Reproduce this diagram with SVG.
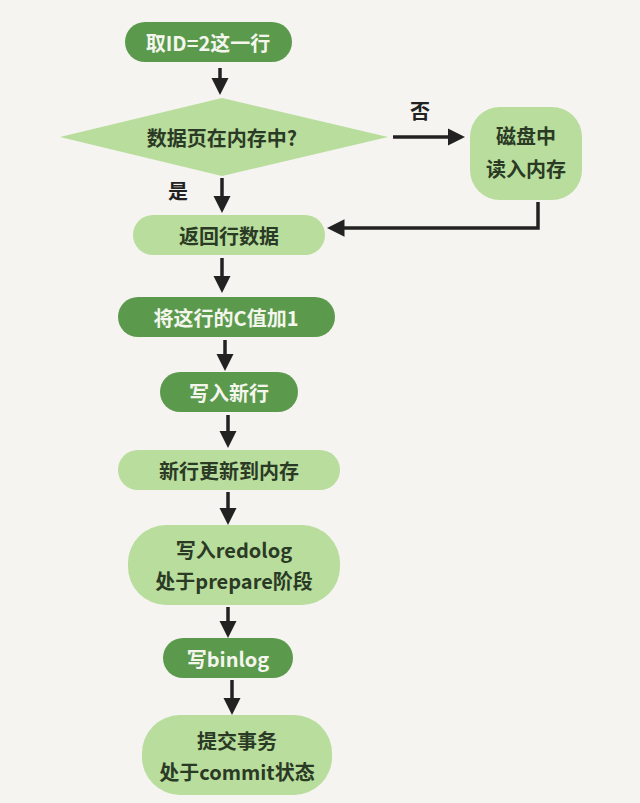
<svg xmlns="http://www.w3.org/2000/svg" width="640" height="803" viewBox="0 0 640 803">
<style>
.dk{fill:#5b9a4c}
.lt{fill:#b8dd9c}
.td{font-family:"Noto Sans CJK SC","Liberation Sans",sans-serif;font-size:20px;fill:#f4f6ee;text-anchor:middle;dominant-baseline:central;font-weight:bold}
.tl{font-family:"Noto Sans CJK SC","Liberation Sans",sans-serif;font-size:20px;fill:#2b3a25;text-anchor:middle;dominant-baseline:central;font-weight:bold}
.c{stroke:#222;stroke-width:3.5;fill:none;marker-end:url(#a)}
</style>
<defs><marker id="a" markerWidth="5" markerHeight="5" refX="3" refY="2.5" orient="auto"><path d="M0,0L5,2.5L0,5z" fill="#222"/></marker></defs>
<rect width="640" height="803" fill="#f5f4f0"/>
<g id="connectors">
<path class="c" d="M220,68V88"/>
<path class="c" d="M393,137H458"/>
<path class="c" d="M222,178V206"/>
<path class="c" d="M538,202V228H334"/>
<path class="c" d="M222,258V286"/>
<path class="c" d="M225,340V364"/>
<path class="c" d="M228,415V441"/>
<path class="c" d="M228,492V518"/>
<path class="c" d="M228,607V631"/>
<path class="c" d="M232,680V708"/>
<text x="420" y="110" class="tl" style="fill:#222">否</text>
<text x="178" y="190" class="tl" style="fill:#222">是</text>
</g>
<g id="n1"><rect class="dk" x="125" y="22" width="167" height="40" rx="20"/><text class="td" x="208" y="42">取ID=2这一行</text></g>
<g id="n2"><polygon class="lt" points="60,137 222,98 388,137 222,176"/><text class="tl" x="222" y="137">数据页在内存中?</text></g>
<g id="n3"><rect class="lt" x="470" y="107" width="112" height="93" rx="30"/><text class="tl" x="526" y="135">磁盘中</text><text class="tl" x="526" y="168">读入内存</text></g>
<g id="n4"><rect class="lt" x="133" y="215" width="192" height="40" rx="20"/><text class="tl" x="229" y="235">返回行数据</text></g>
<g id="n5"><rect class="dk" x="118" y="297" width="217" height="40" rx="20"/><text class="td" x="226" y="317">将这行的C值加1</text></g>
<g id="n6"><rect class="dk" x="160" y="372" width="138" height="40" rx="20"/><text class="td" x="229" y="392">写入新行</text></g>
<g id="n7"><rect class="lt" x="118" y="450" width="222" height="40" rx="20"/><text class="tl" x="229" y="470">新行更新到内存</text></g>
<g id="n8"><rect class="lt" x="128" y="525" width="212" height="80" rx="38"/><text class="tl" x="234" y="549">写入redolog</text><text class="tl" x="234" y="580">处于prepare阶段</text></g>
<g id="n9"><rect class="dk" x="163" y="638" width="130" height="40" rx="20"/><text class="td" x="228" y="658">写binlog</text></g>
<g id="n10"><rect class="lt" x="142" y="715" width="190" height="80" rx="38"/><text class="tl" x="237" y="740">提交事务</text><text class="tl" x="237" y="771">处于commit状态</text></g>
</svg>
